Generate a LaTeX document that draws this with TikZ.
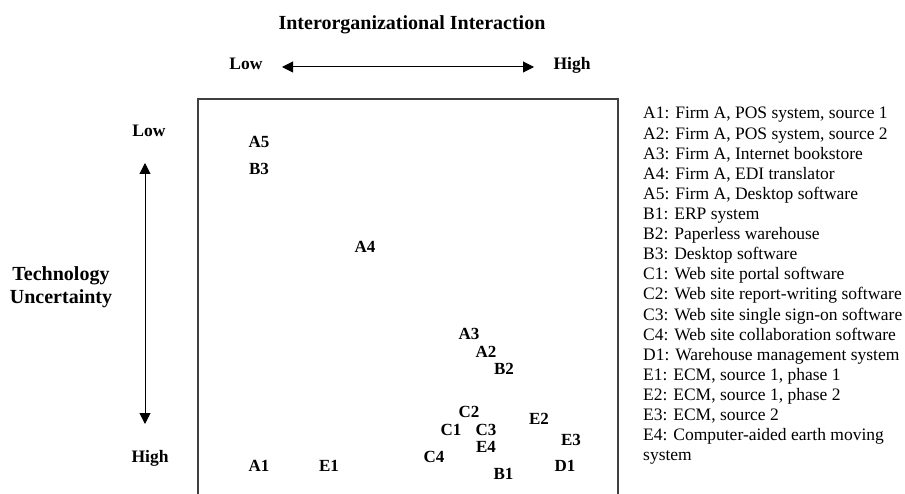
\documentclass[tikz,border=0pt]{standalone}
\usepackage{fontspec}
\setmainfont{Liberation Serif}
\usetikzlibrary{arrows.meta}
\begin{document}
\begin{tikzpicture}[x=1pt,y=-1pt,
  pt/.style={font=\fontsize{17}{20}\selectfont\bfseries, inner sep=0pt, anchor=base},
  axlab/.style={font=\fontsize{17.5}{20}\selectfont\bfseries, inner sep=0pt, anchor=base},
  ttl/.style={font=\fontsize{20}{23}\selectfont\bfseries, inner sep=0pt, anchor=base},
  leg/.style={font=\fontsize{17.5}{20}\selectfont, inner sep=0pt, anchor=base west},
  dbl/.style={{Triangle[length=11pt,width=11pt]}-{Triangle[length=11pt,width=11pt]}, line width=1pt},
  boxline/.style={draw=black!75, line width=1.2pt}]
\useasboundingbox (0,0) rectangle (905,494);
\clip (0,0) rectangle (905,494);
% titles
\node[ttl] (title) at (412,29.3) {Interorganizational Interaction};
\node[ttl] (tech1) at (61,280.7) {Technology};
\node[ttl] (tech2) at (61,304) {Uncertainty};
% axis labels
\node[axlab] (xlow) at (246,69.3) {Low};
\node[axlab] (xhigh) at (572,69.3) {High};
\node[axlab] (ylow) at (149,136.7) {Low};
\node[axlab] (yhigh) at (150,462.7) {High};
% arrows
\coordinate (hl) at (282,67);
\coordinate (hr) at (534,67);
\coordinate (vt) at (145,163);
\coordinate (vb) at (145,424);
\draw[dbl] (hl) -- (hr);
\draw[dbl] (vt) -- (vb);
% box
\draw[boxline] (198,99) rectangle (618,530);
% points
\node[pt] (A5) at (259,147.5) {A5};
\node[pt] (B3) at (259,174.3) {B3};
\node[pt] (A4) at (365,252.7) {A4};
\node[pt] (A3) at (469,339.7) {A3};
\node[pt] (A2) at (486,357.7) {A2};
\node[pt] (B2) at (504,374.7) {B2};
\node[pt] (C2) at (469,417.7) {C2};
\node[pt] (E2) at (539,424.7) {E2};
\node[pt] (C1) at (451,435.7) {C1};
\node[pt] (C3) at (486,435.7) {C3};
\node[pt] (E3) at (571,445.7) {E3};
\node[pt] (E4) at (486,452.7) {E4};
\node[pt] (C4) at (434,462.7) {C4};
\node[pt] (A1) at (259,471.7) {A1};
\node[pt] (E1) at (329,471.7) {E1};
\node[pt] (D1) at (565,471.7) {D1};
\node[pt] (B1) at (503.5,479.7) {B1};
% legend
\foreach \t [count=\i] in {
  {A1: Firm A, POS system, source 1},
  {A2: Firm A, POS system, source 2},
  {A3: Firm A, Internet bookstore},
  {A4: Firm A, EDI translator},
  {A5: Firm A, Desktop software},
  {B1: ERP system},
  {B2: Paperless warehouse},
  {B3: Desktop software},
  {C1: Web site portal software},
  {C2: Web site report-writing software},
  {C3: Web site single sign-on software},
  {C4: Web site collaboration software},
  {D1: Warehouse management system},
  {E1: ECM, source 1, phase 1},
  {E2: ECM, source 1, phase 2},
  {E3: ECM, source 2},
  {E4: Computer-aided earth moving},
  {system}}
  \node[leg] (leg\i) at (643,{119+20.1*(\i-1)}) {\t};
\end{tikzpicture}
\end{document}
